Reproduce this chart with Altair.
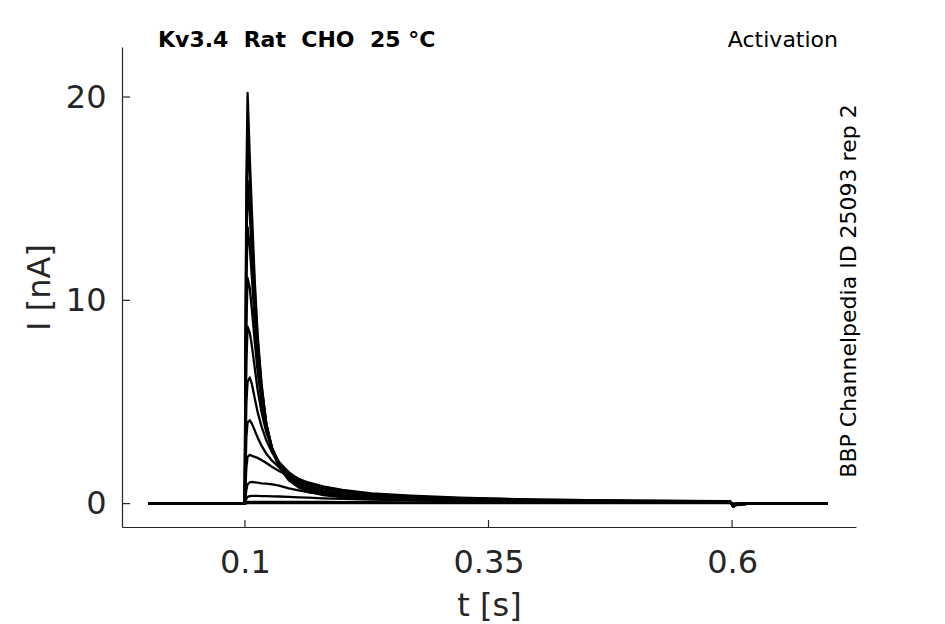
import altair as alt
import pandas as pd

# time points [s]
T = [0.001, 0.0998, 0.1005, 0.1015, 0.1027, 0.105, 0.107, 0.110, 0.113, 0.117,
     0.122, 0.128, 0.135, 0.145, 0.155, 0.165, 0.180, 0.200, 0.230, 0.270,
     0.320, 0.400, 0.500, 0.598, 0.601, 0.605, 0.620, 0.698]

# current traces [nA]
I1 = [0, 0, 8.0, 16.0, 20.2, 17.0, 14.5, 11.0, 8.3, 5.9, 3.9, 2.6, 1.8, 1.15, 0.80, 0.60, 0.42, 0.32, 0.24, 0.19, 0.15, 0.12, 0.10, 0.08, -0.15, -0.05, 0, 0]
I2 = [0, 0, 7.0, 14.5, 18.3, 15.8, 13.6, 10.6, 8.1, 5.8, 3.9, 2.7, 1.9, 1.25, 0.88, 0.66, 0.47, 0.35, 0.26, 0.20, 0.16, 0.12, 0.10, 0.08, -0.15, -0.05, 0, 0]
I3 = [0, 0, 6.0, 12.5, 15.9, 14.2, 12.4, 9.8, 7.6, 5.6, 3.9, 2.7, 1.95, 1.3, 0.92, 0.70, 0.50, 0.37, 0.27, 0.21, 0.16, 0.12, 0.10, 0.08, -0.15, -0.05, 0, 0]
I4 = [0, 0, 5.0, 10.8, 13.6, 12.6, 11.2, 9.0, 7.1, 5.3, 3.8, 2.7, 2.0, 1.35, 0.98, 0.74, 0.53, 0.39, 0.29, 0.22, 0.17, 0.13, 0.10, 0.08, -0.12, -0.04, 0, 0]
I5 = [0, 0, 4.0, 8.8, 11.1, 10.6, 9.6, 8.0, 6.5, 5.0, 3.7, 2.7, 2.0, 1.4, 1.03, 0.80, 0.58, 0.42, 0.31, 0.23, 0.18, 0.13, 0.10, 0.09, -0.12, -0.04, 0, 0]
I6 = [0, 0, 3.2, 7.0, 8.7, 8.4, 7.8, 6.7, 5.6, 4.5, 3.5, 2.65, 2.05, 1.5, 1.12, 0.88, 0.65, 0.48, 0.35, 0.26, 0.20, 0.14, 0.11, 0.09, -0.10, -0.03, 0, 0]
I7 = [0, 0, 2.3, 5.0, 6.0, 6.2, 5.9, 5.2, 4.5, 3.8, 3.1, 2.5, 2.0, 1.55, 1.2, 0.98, 0.75, 0.57, 0.42, 0.31, 0.23, 0.16, 0.12, 0.10, -0.08, -0.03, 0, 0]
I8 = [0, 0, 1.5, 3.3, 4.0, 4.1, 3.95, 3.6, 3.25, 2.85, 2.45, 2.1, 1.8, 1.45, 1.22, 1.04, 0.85, 0.68, 0.50, 0.39, 0.29, 0.20, 0.15, 0.12, -0.06, -0.02, 0, 0]
I9 = [0, 0, 0.8, 1.8, 2.3, 2.4, 2.35, 2.3, 2.25, 2.15, 2.0, 1.8, 1.6, 1.35, 1.15, 0.98, 0.80, 0.63, 0.47, 0.36, 0.27, 0.19, 0.14, 0.11, -0.05, -0.02, 0, 0]
I10 = [0, 0, 0.3, 0.7, 0.95, 1.05, 1.07, 1.05, 1.03, 1.0, 0.98, 0.95, 0.88, 0.75, 0.65, 0.56, 0.47, 0.38, 0.30, 0.23, 0.18, 0.13, 0.10, 0.08, -0.03, -0.01, 0, 0]
I11 = [0, 0, 0.1, 0.25, 0.33, 0.37, 0.38, 0.38, 0.38, 0.37, 0.37, 0.36, 0.35, 0.33, 0.31, 0.29, 0.26, 0.23, 0.20, 0.16, 0.13, 0.10, 0.08, 0.06, -0.02, 0, 0, 0]
I12 = [0, 0, 0.03, 0.06, 0.08, 0.09, 0.09, 0.09, 0.09, 0.09, 0.09, 0.09, 0.09, 0.09, 0.08, 0.08, 0.08, 0.07, 0.07, 0.06, 0.06, 0.05, 0.05, 0.04, -0.01, 0, 0, 0]
I13 = [0, 0, 0, 0.01, 0.02, 0.02, 0.02, 0.02, 0.02, 0.02, 0.02, 0.02, 0.02, 0.02, 0.02, 0.02, 0.02, 0.02, 0.02, 0.02, 0.02, 0.02, 0.02, 0.02, 0, 0, 0, 0]

TRACES = [I1, I2, I3, I4, I5, I6, I7, I8, I9, I10, I11, I12, I13]

X_TICKS = [0.1, 0.35, 0.6]
Y_TICKS = [0, 10, 20]

NB = "\u00a0"
TITLE = f"Kv3.4{NB}{NB}Rat{NB}{NB}CHO{NB}{NB}25{NB}°C"

rows = []
for k, tr in enumerate(TRACES):
    for t, v in zip(T, tr):
        rows.append({"t": t, "I": v, "trace": k})
df = pd.DataFrame(rows)

W, H = 734, 480
AX = "#262626"
FONT = "DejaVu Sans"

xscale = alt.Scale(domain=[-0.0262, 0.7272], nice=False, zero=False)
yscale = alt.Scale(domain=[-1.15, 22.46], nice=False, zero=False)

lines = alt.Chart(df).mark_line(color="black", strokeWidth=2.3, strokeJoin="round").encode(
    x=alt.X("t:Q", scale=xscale,
            axis=alt.Axis(title="t [s]", values=X_TICKS, format="~g", grid=False,
                          ticks=False, tickSize=0, labelPadding=20,
                          titleY=88, titleBaseline="alphabetic",
                          titleFontWeight="normal")),
    y=alt.Y("I:Q", scale=yscale,
            axis=alt.Axis(title="I [nA]", values=Y_TICKS, grid=False,
                          ticks=False, tickSize=0, labelPadding=16,
                          titleX=-73, titleY=H / 2, titleAngle=270,
                          titleAlign="center", titleBaseline="alphabetic",
                          titleFontWeight="normal")),
    detail="trace:N",
)

xt = pd.DataFrame({"v": X_TICKS})
yt = pd.DataFrame({"v": Y_TICKS})

xticks = alt.Chart(xt).mark_rule(color=AX, strokeWidth=1.2).encode(
    x=alt.X("v:Q", scale=xscale), y=alt.value(H), y2=alt.value(H - 7))
yticks = alt.Chart(yt).mark_rule(color=AX, strokeWidth=1.2).encode(
    y=alt.Y("v:Q", scale=yscale), x=alt.value(0), x2=alt.value(8))

title_txt = alt.Chart(pd.DataFrame({"s": [TITLE]})).mark_text(
    font=FONT, fontSize=22, fontWeight="bold", color="black", align="left",
    baseline="alphabetic").encode(text="s:N", x=alt.value(36), y=alt.value(0))

act_txt = alt.Chart(pd.DataFrame({"s": ["Activation"]})).mark_text(
    font=FONT, fontSize=22, color="black", align="right",
    baseline="alphabetic").encode(text="s:N", x=alt.value(716), y=alt.value(-0.5))

side_txt = alt.Chart(pd.DataFrame({"s": ["BBP Channelpedia ID 25093 rep 2"]})).mark_text(
    font=FONT, fontSize=22, color="black", align="center", angle=270,
    baseline="alphabetic").encode(text="s:N", x=alt.value(734), y=alt.value(244))

chart = alt.layer(lines, xticks, yticks, title_txt, act_txt, side_txt).properties(
    width=W, height=H,
    padding={"left": 114, "top": 39, "right": 60, "bottom": 96},
    autosize="none",
).configure_view(stroke=None).configure_axis(
    domainColor=AX, domainWidth=1.2,
    labelFont=FONT, labelFontSize=32, labelColor=AX,
    titleFont=FONT, titleFontSize=32, titleColor=AX,
).configure_axisY(labelAlign="right", labelBaseline="middle")

chart.save("out.html", embed_options={"renderer": "svg", "actions": False})
